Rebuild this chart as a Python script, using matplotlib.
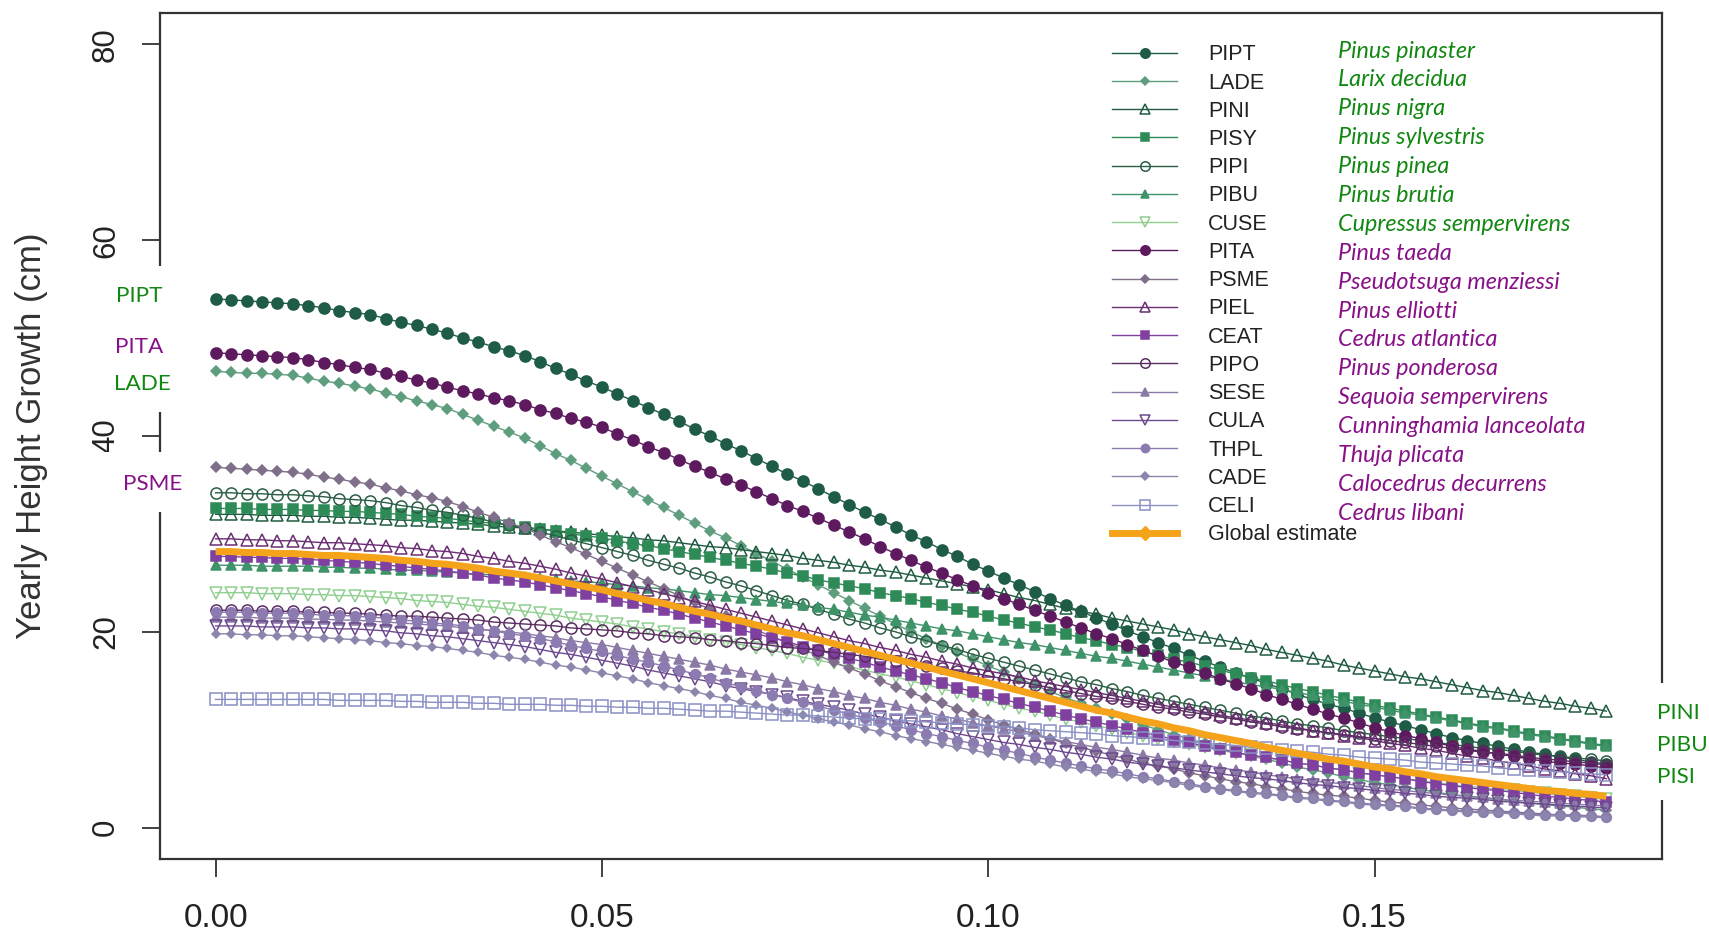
import matplotlib
matplotlib.use('Agg')
import matplotlib.pyplot as plt
from matplotlib.lines import Line2D
from matplotlib.patches import Rectangle

plt.rcParams['font.family'] = ['Liberation Sans', 'DejaVu Sans']

# ---------------- data ----------------
x = [0.000, 0.002, 0.004, 0.006, 0.008, 0.010, 0.012, 0.014, 0.016, 0.018,
     0.020, 0.022, 0.024, 0.026, 0.028, 0.030, 0.032, 0.034, 0.036, 0.038,
     0.040, 0.042, 0.044, 0.046, 0.048, 0.050, 0.052, 0.054, 0.056, 0.058,
     0.060, 0.062, 0.064, 0.066, 0.068, 0.070, 0.072, 0.074, 0.076, 0.078,
     0.080, 0.082, 0.084, 0.086, 0.088, 0.090, 0.092, 0.094, 0.096, 0.098,
     0.100, 0.102, 0.104, 0.106, 0.108, 0.110, 0.112, 0.114, 0.116, 0.118,
     0.120, 0.122, 0.124, 0.126, 0.128, 0.130, 0.132, 0.134, 0.136, 0.138,
     0.140, 0.142, 0.144, 0.146, 0.148, 0.150, 0.152, 0.154, 0.156, 0.158,
     0.160, 0.162, 0.164, 0.166, 0.168, 0.170, 0.172, 0.174, 0.176, 0.178,
     0.180]

codes = ['PIPT', 'LADE', 'PINI', 'PISY', 'PIPI', 'PIBU', 'CUSE',
         'PITA', 'PSME', 'PIEL', 'CEAT', 'PIPO', 'SESE', 'CULA',
         'THPL', 'CADE', 'CELI']
names = ['Pinus pinaster', 'Larix decidua', 'Pinus nigra', 'Pinus sylvestris',
         'Pinus pinea', 'Pinus brutia', 'Cupressus sempervirens',
         'Pinus taeda', 'Pseudotsuga menziessi', 'Pinus elliotti',
         'Cedrus atlantica', 'Pinus ponderosa', 'Sequoia sempervirens',
         'Cunninghamia lanceolata', 'Thuja plicata', 'Calocedrus decurrens',
         'Cedrus libani']
global_label = 'Global estimate'
left_labels = ['PIPT', 'PITA', 'LADE', 'PSME']
right_labels = ['PINI', 'PIBU', 'PISI']
xtick_vals = [0.00, 0.05, 0.10, 0.15]
xtick_labels = ['0.00', '0.05', '0.10', '0.15']
ytick_vals = [0, 20, 40, 60, 80]
ytick_labels = ['0', '20', '40', '60', '80']

PIPT = [54.0, 53.9, 53.8, 53.7, 53.6, 53.5, 53.3, 53.1, 52.8, 52.6,
        52.4, 52.0, 51.6, 51.3, 50.9, 50.5, 50.0, 49.6, 49.1, 48.7,
        48.2, 47.6, 46.9, 46.3, 45.6, 45.0, 44.3, 43.6, 42.9, 42.2,
        41.5, 40.7, 40.0, 39.2, 38.5, 37.7, 36.9, 36.1, 35.4, 34.6,
        33.8, 33.0, 32.2, 31.5, 30.7, 29.9, 29.2, 28.4, 27.7, 26.9,
        26.2, 25.5, 24.8, 24.1, 23.4, 22.7, 22.1, 21.4, 20.8, 20.1,
        19.5, 18.9, 18.3, 17.6, 17.0, 16.4, 15.8, 15.3, 14.7, 14.2,
        13.6, 13.1, 12.6, 12.2, 11.7, 11.2, 10.8, 10.4, 10.0, 9.6,
        9.2, 8.9, 8.6, 8.3, 8.0, 7.7, 7.5, 7.2, 7.0, 6.7, 6.5]
LADE = [46.6, 46.5, 46.4, 46.4, 46.3, 46.2, 45.9, 45.6, 45.4, 45.1,
        44.8, 44.4, 44.0, 43.6, 43.2, 42.8, 42.2, 41.6, 41.0, 40.4,
        39.8, 39.0, 38.2, 37.5, 36.7, 35.9, 35.1, 34.3, 33.5, 32.7,
        31.9, 31.1, 30.3, 29.6, 28.8, 28.0, 27.2, 26.4, 25.6, 24.8,
        24.0, 23.2, 22.4, 21.6, 20.8, 20.0, 19.3, 18.6, 17.9, 17.2,
        16.5, 15.9, 15.2, 14.6, 13.9, 13.3, 12.7, 12.2, 11.6, 11.1,
        10.5, 10.0, 9.5, 9.1, 8.6, 8.1, 7.7, 7.3, 7.0, 6.6,
        6.2, 5.9, 5.6, 5.2, 4.9, 4.6, 4.4, 4.1, 3.9, 3.6,
        3.4, 3.2, 3.0, 2.9, 2.7, 2.5, 2.4, 2.2, 2.1, 1.9, 1.8]
PINI = [32.0, 32.0, 32.0, 31.9, 31.9, 31.9, 31.8, 31.8, 31.7, 31.7,
        31.6, 31.5, 31.4, 31.4, 31.3, 31.2, 31.1, 31.0, 30.8, 30.7,
        30.6, 30.5, 30.3, 30.2, 30.0, 29.9, 29.7, 29.6, 29.4, 29.3,
        29.1, 28.9, 28.7, 28.6, 28.4, 28.2, 28.0, 27.8, 27.5, 27.3,
        27.1, 26.8, 26.6, 26.3, 26.1, 25.8, 25.5, 25.2, 24.9, 24.6,
        24.3, 23.9, 23.5, 23.2, 22.8, 22.4, 22.1, 21.8, 21.4, 21.1,
        20.8, 20.5, 20.2, 19.8, 19.5, 19.2, 18.9, 18.6, 18.2, 17.9,
        17.6, 17.3, 17.0, 16.6, 16.3, 16.0, 15.7, 15.4, 15.2, 14.9,
        14.6, 14.3, 14.0, 13.8, 13.5, 13.2, 12.9, 12.7, 12.4, 12.2, 11.9]
PISY = [32.6, 32.6, 32.6, 32.5, 32.5, 32.5, 32.4, 32.4, 32.3, 32.3,
        32.2, 32.1, 32.0, 31.8, 31.7, 31.6, 31.4, 31.2, 31.1, 30.9,
        30.7, 30.5, 30.3, 30.0, 29.8, 29.6, 29.3, 29.0, 28.8, 28.5,
        28.2, 27.9, 27.6, 27.3, 27.0, 26.7, 26.4, 26.0, 25.7, 25.3,
        25.0, 24.7, 24.4, 24.0, 23.7, 23.4, 23.0, 22.7, 22.3, 22.0,
        21.6, 21.2, 20.9, 20.5, 20.2, 19.8, 19.4, 19.1, 18.7, 18.4,
        18.0, 17.6, 17.2, 16.9, 16.5, 16.1, 15.7, 15.3, 15.0, 14.6,
        14.2, 13.9, 13.5, 13.2, 12.8, 12.5, 12.2, 11.9, 11.6, 11.3,
        11.0, 10.7, 10.4, 10.2, 9.9, 9.6, 9.4, 9.1, 8.9, 8.6, 8.4]
PIPI = [34.2, 34.2, 34.1, 34.1, 34.0, 34.0, 33.9, 33.8, 33.6, 33.5,
        33.4, 33.2, 32.9, 32.7, 32.4, 32.2, 31.9, 31.6, 31.2, 30.9,
        30.6, 30.2, 29.8, 29.4, 29.0, 28.6, 28.2, 27.8, 27.3, 26.9,
        26.5, 26.0, 25.6, 25.1, 24.7, 24.2, 23.7, 23.2, 22.8, 22.3,
        21.8, 21.3, 20.9, 20.4, 20.0, 19.5, 19.1, 18.6, 18.2, 17.7,
        17.3, 16.9, 16.5, 16.1, 15.7, 15.3, 14.9, 14.6, 14.2, 13.9,
        13.5, 13.2, 12.9, 12.6, 12.3, 12.0, 11.7, 11.4, 11.2, 10.9,
        10.6, 10.4, 10.2, 9.9, 9.7, 9.5, 9.3, 9.1, 8.9, 8.7,
        8.5, 8.3, 8.1, 8.0, 7.8, 7.6, 7.4, 7.3, 7.1, 7.0, 6.8]
PIBU = [26.8, 26.8, 26.8, 26.7, 26.7, 26.7, 26.7, 26.6, 26.6, 26.5,
        26.5, 26.4, 26.3, 26.3, 26.2, 26.1, 26.0, 25.9, 25.8, 25.7,
        25.6, 25.5, 25.4, 25.2, 25.1, 25.0, 24.8, 24.7, 24.5, 24.4,
        24.2, 24.0, 23.8, 23.7, 23.5, 23.3, 23.1, 22.9, 22.7, 22.5,
        22.3, 22.0, 21.7, 21.5, 21.2, 20.9, 20.6, 20.3, 20.1, 19.8,
        19.5, 19.2, 18.9, 18.7, 18.4, 18.1, 17.8, 17.5, 17.3, 17.0,
        16.7, 16.4, 16.1, 15.8, 15.5, 15.2, 14.9, 14.6, 14.4, 14.1,
        13.8, 13.5, 13.2, 12.9, 12.6, 12.3, 12.0, 11.7, 11.5, 11.2,
        10.9, 10.6, 10.3, 10.1, 9.8, 9.5, 9.3, 9.0, 8.8, 8.5, 8.3]
CUSE = [24.0, 24.0, 24.0, 23.9, 23.9, 23.9, 23.8, 23.8, 23.7, 23.7,
        23.6, 23.5, 23.4, 23.2, 23.1, 23.0, 22.8, 22.6, 22.5, 22.3,
        22.1, 21.9, 21.7, 21.4, 21.2, 21.0, 20.8, 20.5, 20.3, 20.0,
        19.8, 19.5, 19.2, 19.0, 18.7, 18.4, 18.1, 17.8, 17.4, 17.1,
        16.8, 16.4, 16.1, 15.7, 15.4, 15.0, 14.6, 14.2, 13.8, 13.4,
        13.0, 12.6, 12.2, 11.9, 11.5, 11.1, 10.8, 10.4, 10.1, 9.7,
        9.4, 9.1, 8.8, 8.5, 8.2, 7.9, 7.6, 7.4, 7.1, 6.9,
        6.6, 6.4, 6.1, 5.9, 5.6, 5.4, 5.2, 5.0, 4.8, 4.6,
        4.4, 4.2, 4.1, 3.9, 3.8, 3.6, 3.5, 3.3, 3.2, 3.0, 2.9]
PITA = [48.5, 48.4, 48.3, 48.2, 48.1, 48.0, 47.8, 47.5, 47.3, 47.0,
        46.8, 46.4, 46.1, 45.7, 45.4, 45.0, 44.6, 44.3, 43.9, 43.6,
        43.2, 42.7, 42.3, 41.8, 41.4, 40.9, 40.2, 39.6, 38.9, 38.3,
        37.6, 36.9, 36.3, 35.6, 35.0, 34.3, 33.6, 32.9, 32.3, 31.6,
        30.9, 30.2, 29.5, 28.7, 28.0, 27.3, 26.6, 26.0, 25.3, 24.7,
        24.0, 23.4, 22.8, 22.2, 21.6, 21.0, 20.4, 19.8, 19.3, 18.7,
        18.1, 17.5, 16.9, 16.4, 15.8, 15.2, 14.7, 14.2, 13.6, 13.1,
        12.6, 12.1, 11.6, 11.2, 10.7, 10.2, 9.8, 9.4, 9.1, 8.7,
        8.3, 8.0, 7.8, 7.5, 7.3, 7.0, 6.8, 6.6, 6.5, 6.3, 6.1]
PSME = [36.8, 36.7, 36.6, 36.5, 36.4, 36.3, 36.1, 35.8, 35.6, 35.3,
        35.1, 34.7, 34.4, 34.0, 33.7, 33.3, 32.8, 32.2, 31.7, 31.1,
        30.6, 29.9, 29.2, 28.6, 27.9, 27.2, 26.5, 25.8, 25.1, 24.4,
        23.7, 23.0, 22.3, 21.6, 20.9, 20.2, 19.5, 18.9, 18.2, 17.6,
        16.9, 16.3, 15.7, 15.0, 14.4, 13.8, 13.2, 12.7, 12.1, 11.6,
        11.0, 10.5, 10.0, 9.6, 9.1, 8.6, 8.2, 7.8, 7.4, 7.0,
        6.6, 6.3, 6.0, 5.6, 5.3, 5.0, 4.7, 4.5, 4.2, 4.0,
        3.7, 3.5, 3.3, 3.2, 3.0, 2.8, 2.6, 2.5, 2.3, 2.2,
        2.0, 1.9, 1.8, 1.7, 1.6, 1.5, 1.4, 1.3, 1.3, 1.2, 1.1]
PIEL = [29.5, 29.5, 29.4, 29.4, 29.3, 29.3, 29.2, 29.1, 29.1, 29.0,
        28.9, 28.8, 28.6, 28.5, 28.3, 28.2, 28.0, 27.7, 27.5, 27.2,
        27.0, 26.7, 26.4, 26.0, 25.7, 25.4, 25.0, 24.6, 24.3, 23.9,
        23.5, 23.1, 22.7, 22.3, 21.9, 21.5, 21.1, 20.7, 20.3, 19.9,
        19.5, 19.1, 18.8, 18.4, 18.1, 17.7, 17.4, 17.0, 16.7, 16.3,
        16.0, 15.7, 15.4, 15.0, 14.7, 14.4, 14.1, 13.8, 13.5, 13.2,
        12.9, 12.6, 12.3, 12.1, 11.8, 11.5, 11.2, 11.0, 10.7, 10.5,
        10.2, 9.9, 9.7, 9.4, 9.2, 8.9, 8.6, 8.4, 8.1, 7.9,
        7.6, 7.3, 7.1, 6.8, 6.6, 6.3, 6.0, 5.8, 5.5, 5.3, 5.0]
CEAT = [27.7, 27.7, 27.6, 27.6, 27.5, 27.5, 27.4, 27.3, 27.2, 27.1,
        27.0, 26.8, 26.7, 26.5, 26.4, 26.2, 26.0, 25.8, 25.5, 25.3,
        25.1, 24.8, 24.5, 24.2, 23.9, 23.6, 23.2, 22.9, 22.5, 22.2,
        21.8, 21.4, 21.0, 20.6, 20.2, 19.8, 19.4, 19.0, 18.5, 18.1,
        17.7, 17.3, 16.9, 16.4, 16.0, 15.6, 15.2, 14.8, 14.3, 13.9,
        13.5, 13.1, 12.7, 12.3, 11.9, 11.5, 11.1, 10.8, 10.4, 10.1,
        9.7, 9.4, 9.0, 8.7, 8.3, 8.0, 7.7, 7.4, 7.2, 6.9,
        6.6, 6.4, 6.1, 5.9, 5.6, 5.4, 5.2, 5.0, 4.7, 4.5,
        4.3, 4.1, 3.9, 3.8, 3.6, 3.4, 3.2, 3.1, 2.9, 2.8, 2.6]
PIPO = [22.2, 22.2, 22.2, 22.1, 22.1, 22.1, 22.0, 22.0, 21.9, 21.9,
        21.8, 21.7, 21.6, 21.6, 21.5, 21.4, 21.3, 21.2, 21.0, 20.9,
        20.8, 20.7, 20.6, 20.4, 20.3, 20.2, 20.1, 19.9, 19.8, 19.6,
        19.5, 19.4, 19.2, 19.1, 18.9, 18.8, 18.6, 18.4, 18.3, 18.1,
        17.9, 17.7, 17.5, 17.2, 17.0, 16.8, 16.5, 16.3, 16.0, 15.8,
        15.5, 15.2, 14.9, 14.6, 14.3, 14.0, 13.7, 13.4, 13.2, 12.9,
        12.6, 12.3, 12.1, 11.8, 11.6, 11.3, 11.1, 10.8, 10.6, 10.3,
        10.1, 9.9, 9.7, 9.5, 9.3, 9.1, 8.9, 8.7, 8.5, 8.3,
        8.1, 7.9, 7.7, 7.6, 7.4, 7.2, 7.0, 6.9, 6.7, 6.6, 6.4]
SESE = [21.5, 21.5, 21.5, 21.4, 21.4, 21.4, 21.3, 21.3, 21.2, 21.2,
        21.1, 21.0, 20.9, 20.8, 20.7, 20.6, 20.4, 20.3, 20.1, 20.0,
        19.8, 19.6, 19.4, 19.1, 18.9, 18.7, 18.4, 18.1, 17.8, 17.5,
        17.2, 16.9, 16.6, 16.2, 15.9, 15.6, 15.3, 14.9, 14.6, 14.2,
        13.9, 13.5, 13.2, 12.8, 12.5, 12.1, 11.8, 11.4, 11.1, 10.7,
        10.4, 10.1, 9.8, 9.4, 9.1, 8.8, 8.5, 8.2, 8.0, 7.7,
        7.4, 7.1, 6.9, 6.6, 6.4, 6.1, 5.9, 5.7, 5.4, 5.2,
        5.0, 4.8, 4.6, 4.5, 4.3, 4.1, 3.9, 3.8, 3.6, 3.5,
        3.3, 3.2, 3.1, 2.9, 2.8, 2.7, 2.6, 2.5, 2.4, 2.3, 2.2]
CULA = [20.6, 20.6, 20.6, 20.5, 20.5, 20.5, 20.4, 20.4, 20.3, 20.3,
        20.2, 20.1, 19.9, 19.8, 19.6, 19.5, 19.3, 19.1, 18.9, 18.7,
        18.5, 18.2, 17.9, 17.7, 17.4, 17.1, 16.8, 16.5, 16.1, 15.8,
        15.5, 15.2, 14.9, 14.5, 14.2, 13.9, 13.6, 13.3, 12.9, 12.6,
        12.3, 12.0, 11.6, 11.3, 10.9, 10.6, 10.3, 10.0, 9.6, 9.3,
        9.0, 8.7, 8.5, 8.2, 8.0, 7.7, 7.5, 7.2, 7.0, 6.7,
        6.5, 6.3, 6.1, 5.9, 5.7, 5.5, 5.3, 5.1, 5.0, 4.8,
        4.6, 4.4, 4.3, 4.1, 4.0, 3.8, 3.7, 3.5, 3.4, 3.2,
        3.1, 3.0, 2.9, 2.7, 2.6, 2.5, 2.4, 2.3, 2.2, 2.1, 2.0]
THPL = [22.0, 22.0, 22.0, 21.9, 21.9, 21.9, 21.8, 21.7, 21.7, 21.6,
        21.5, 21.4, 21.2, 21.1, 20.9, 20.8, 20.6, 20.3, 20.1, 19.8,
        19.6, 19.3, 19.0, 18.6, 18.3, 18.0, 17.6, 17.2, 16.9, 16.5,
        16.1, 15.7, 15.3, 14.8, 14.4, 14.0, 13.6, 13.2, 12.8, 12.4,
        12.0, 11.6, 11.2, 10.8, 10.4, 10.0, 9.6, 9.3, 8.9, 8.6,
        8.2, 7.9, 7.6, 7.2, 6.9, 6.6, 6.3, 6.0, 5.8, 5.5,
        5.2, 5.0, 4.7, 4.5, 4.2, 4.0, 3.8, 3.6, 3.5, 3.3,
        3.1, 3.0, 2.8, 2.7, 2.5, 2.4, 2.3, 2.2, 2.0, 1.9,
        1.8, 1.7, 1.6, 1.6, 1.5, 1.4, 1.3, 1.3, 1.2, 1.2, 1.1]
CADE = [19.8, 19.8, 19.7, 19.7, 19.6, 19.6, 19.5, 19.4, 19.3, 19.2,
        19.1, 18.9, 18.8, 18.6, 18.5, 18.3, 18.1, 17.9, 17.6, 17.4,
        17.2, 16.9, 16.6, 16.4, 16.1, 15.8, 15.5, 15.2, 14.8, 14.5,
        14.2, 13.9, 13.5, 13.2, 12.8, 12.5, 12.2, 11.8, 11.5, 11.1,
        10.8, 10.5, 10.1, 9.8, 9.4, 9.1, 8.8, 8.5, 8.2, 7.9,
        7.6, 7.3, 7.0, 6.8, 6.5, 6.2, 6.0, 5.7, 5.5, 5.2,
        5.0, 4.8, 4.6, 4.3, 4.1, 3.9, 3.7, 3.5, 3.4, 3.2,
        3.0, 2.9, 2.7, 2.6, 2.4, 2.3, 2.2, 2.1, 1.9, 1.8,
        1.7, 1.6, 1.5, 1.5, 1.4, 1.3, 1.2, 1.2, 1.1, 1.1, 1.0]
CELI = [13.1, 13.1, 13.1, 13.1, 13.1, 13.1, 13.1, 13.1, 13.0, 13.0,
        13.0, 13.0, 12.9, 12.9, 12.8, 12.8, 12.8, 12.7, 12.7, 12.6,
        12.6, 12.6, 12.5, 12.5, 12.4, 12.4, 12.3, 12.3, 12.2, 12.2,
        12.1, 12.0, 11.9, 11.9, 11.8, 11.7, 11.6, 11.5, 11.5, 11.4,
        11.3, 11.2, 11.1, 11.1, 11.0, 10.9, 10.8, 10.7, 10.6, 10.5,
        10.4, 10.3, 10.2, 10.0, 9.9, 9.8, 9.7, 9.6, 9.4, 9.3,
        9.2, 9.1, 8.9, 8.8, 8.6, 8.5, 8.4, 8.2, 8.1, 7.9,
        7.8, 7.7, 7.5, 7.4, 7.2, 7.1, 7.0, 6.9, 6.7, 6.6,
        6.5, 6.4, 6.3, 6.1, 6.0, 5.9, 5.8, 5.7, 5.6, 5.5, 5.4]
GLOBAL = [28.2, 28.2, 28.1, 28.1, 28.0, 28.0, 27.9, 27.8, 27.8, 27.7,
          27.6, 27.5, 27.3, 27.2, 27.0, 26.9, 26.7, 26.5, 26.2, 26.0,
          25.8, 25.5, 25.2, 24.9, 24.6, 24.3, 23.9, 23.6, 23.2, 22.9,
          22.5, 22.1, 21.8, 21.4, 21.1, 20.7, 20.3, 19.9, 19.6, 19.2,
          18.8, 18.4, 18.0, 17.6, 17.2, 16.8, 16.4, 16.0, 15.6, 15.2,
          14.8, 14.4, 14.0, 13.6, 13.2, 12.8, 12.4, 12.0, 11.7, 11.3,
          10.9, 10.6, 10.2, 9.9, 9.5, 9.2, 8.9, 8.6, 8.2, 7.9,
          7.6, 7.3, 7.0, 6.8, 6.5, 6.2, 6.0, 5.7, 5.5, 5.2,
          5.0, 4.8, 4.6, 4.4, 4.2, 4.0, 3.8, 3.7, 3.5, 3.4, 3.2]

series = [PIPT, LADE, PINI, PISY, PIPI, PIBU, CUSE, PITA, PSME, PIEL,
          CEAT, PIPO, SESE, CULA, THPL, CADE, CELI]

# ---------------- styles ----------------
GREEN_TXT = '#118811'
PURPLE_TXT = '#881188'
colors = ['#1e5c47', '#5e9e7e', '#1f5b40', '#2e8b57', '#2a5e45', '#3f9368', '#8fcf8f',
          '#5e1a5e', '#7f6f8a', '#6b2e73', '#8040a0', '#5c2d63', '#8a7aa5', '#6d4a8f',
          '#8c7bb0', '#8c86ad', '#8a90c4']
markers = ['o', 'D', '^', 's', 'o', '^', 'v', 'o', 'D', '^', 's', 'o', '^', 'v', 'o', 'D', 's']
filled = [True, True, False, True, False, True, False, True, True, False,
          True, False, True, False, True, True, False]
msizes = [8.0, 5.0, 9.0, 7.0, 8.0, 7.0, 9.0, 8.0, 5.0, 9.0, 7.0, 8.0, 6.5, 9.0, 7.0, 4.5, 8.0]
name_colors = [GREEN_TXT] * 7 + [PURPLE_TXT] * 10
ORANGE = '#f5a31a'

W, H = 1709, 939
fig = plt.figure(figsize=(W / 100, H / 100), dpi=100)
ax_l, ax_r, ax_t, ax_b = 160, 1662, 13, 859
ax = fig.add_axes([ax_l / W, 1 - ax_b / H, (ax_r - ax_l) / W, (ax_b - ax_t) / H])

handles = []
for i, y in enumerate(series):
    c = colors[i]
    kw = dict(color=c, marker=markers[i], ms=msizes[i], mec=c,
              mfc=c if filled[i] else 'none', mew=1.1, lw=1.0)
    ax.plot(x, y, zorder=2 + i * 0.01, **kw)
    hk = dict(kw)
    hk['ms'] = msizes[i] * 0.85
    handles.append(Line2D([], [], **hk))

ax.plot(x, GLOBAL, color=ORANGE, lw=5, zorder=3, solid_capstyle='butt')
handles.append(Line2D([], [], color=ORANGE, lw=5, marker='D', ms=7,
                      mfc=ORANGE, mec=ORANGE))

ax.set_xlim(-0.0072, 0.1872)
ax.set_ylim(-3.2, 83.2)
ax.set_xticks(xtick_vals)
ax.set_xticklabels(xtick_labels, fontsize=24, color='#222222')
ax.set_yticks(ytick_vals)
ax.set_yticklabels(ytick_labels, fontsize=22.5, color='#222222', rotation=90, va='center')
ax.tick_params(axis='both', direction='out', length=13, width=1.3, color='#333333')
ax.tick_params(axis='x', pad=19)
ax.tick_params(axis='y', pad=15)
for s in ax.spines.values():
    s.set_linewidth(1.6)
    s.set_color('#333333')
ax.set_ylabel('Yearly Height Growth (cm)', fontsize=25, color='#333333')
ax.yaxis.set_label_coords(-0.0746, 0.5)

labels = codes + [global_label]
leg = ax.legend(handles, labels, loc='upper left', bbox_to_anchor=(0.634, 0.963),
                frameon=False, fontsize=15.5, handlelength=3.0, handletextpad=1.45,
                labelspacing=0.336, borderpad=0, borderaxespad=0)
for t in leg.get_texts():
    t.set_color('#222222')

# italic species names next to legend
name_x = 1338
name_y0, name_dy = 51, 28.9
for i, nm in enumerate(names):
    yp = name_y0 + i * name_dy
    fig.text(name_x / W, 1 - yp / H, nm, color=name_colors[i], fontsize=16.8,
             fontstyle='italic', family=['Lato', 'DejaVu Sans'], va='center', ha='left',
             zorder=12)

# white boxes behind curve labels (they interrupt the axis lines)
boxes = [(95, 266, 110, 146), (95, 452, 110, 60), (1648, 683, 61, 117)]
for bx, by, bw, bh in boxes:
    fig.add_artist(Rectangle((bx / W, 1 - (by + bh) / H), bw / W, bh / H,
                             transform=fig.transFigure, facecolor='white',
                             edgecolor='none', zorder=10))

left_pos = [(139.5, 296.5), (139.5, 346.6), (142.8, 383.7), (152.6, 484.0)]
left_cols = [GREEN_TXT, PURPLE_TXT, GREEN_TXT, PURPLE_TXT]
for lab, (px, py), c in zip(left_labels, left_pos, left_cols):
    fig.text(px / W, 1 - py / H, lab, color=c, fontsize=16.2, family=['Lato', 'DejaVu Sans'],
             ha='center', va='center', zorder=11)

right_y = [713, 745, 777]
for lab, py in zip(right_labels, right_y):
    fig.text(1657 / W, 1 - py / H, lab, color=GREEN_TXT, fontsize=16.2,
             family=['Lato', 'DejaVu Sans'], ha='left', va='center', zorder=11)

fig.savefig('out.png', dpi=100)
